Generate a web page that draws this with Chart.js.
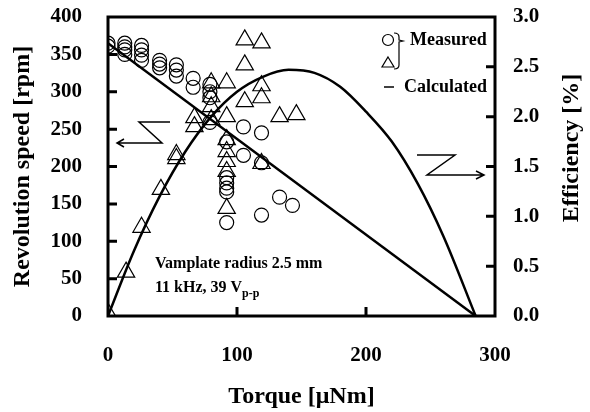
<!DOCTYPE html>
<html>
<head>
<meta charset="utf-8">
<script src="https://cdn.jsdelivr.net/npm/chart.js@4.4.1/dist/chart.umd.min.js"></script>
<style>
  html, body { margin: 0; padding: 0; background: #fff; }
  #wrap { width: 590px; height: 412px; }
</style>
</head>
<body>
<div id="wrap"><canvas id="chart" width="590" height="412"></canvas></div>
<script>
// measured revolution speed (circles)
const speedTorque = [0, 0, 13, 13, 13, 13, 26, 26, 26, 26, 40, 40, 40, 53, 53, 53, 66, 66,
    79, 79, 79, 79, 92, 92, 92, 92, 92, 92, 105, 105, 119, 119, 119, 133, 143];
const speedRpm = [365, 361, 365, 360, 356, 350, 362, 356, 349, 342, 342, 337, 332, 336, 329, 321, 318, 306,
    310, 300, 292, 259, 233, 185, 178, 171, 166, 125, 253, 215, 245, 205, 135, 159, 148];

// measured efficiency (triangles)
const effTorque = [0, 14, 26, 41, 53, 53, 67, 67, 80, 80, 80, 80, 92, 92, 92, 92, 92, 92, 92,
    106, 106, 106, 119, 119, 119, 119, 133, 146];
const effPct = [0.03, 0.44, 0.89, 1.27, 1.62, 1.58, 1.99, 1.9, 2.34, 2.2, 2.1, 1.97, 2.34, 2.0, 1.77, 1.65, 1.55, 1.45, 1.08,
    2.77, 2.52, 2.15, 2.74, 2.31, 2.19, 1.53, 2.0, 2.02];

// calculated curves
const calcSpeedTorque = [0, 285];
const calcSpeedRpm = [365, 0];
const calcEffTorque = [0, 20, 40, 60, 80, 100, 120, 140, 160, 180, 200, 220, 240, 260, 285];
const calcEffPct = [0, 0.65, 1.2, 1.65, 2.0, 2.25, 2.4, 2.47, 2.44, 2.3, 2.05, 1.75, 1.33, 0.8, 0];

// axis ticks
const xTicks = [0, 100, 200, 300];
const speedTicks = [0, 50, 100, 150, 200, 250, 300, 350, 400];
const effTicks = [0, 0.5, 1.0, 1.5, 2.0, 2.5, 3.0];

const FONT = '"Liberation Serif", "Times New Roman", serif';

function pts(xs, ys) {
    return xs.map((x, i) => ({ x: x, y: ys[i] }));
}

// box, inward ticks, legend, arrows and notes
const decor = {
    id: 'decor',
    afterDraw(chart) {
        const ctx = chart.ctx;
        const a = chart.chartArea;
        const sx = chart.scales.x, sy = chart.scales.y, se = chart.scales.y2;
        ctx.save();
        ctx.strokeStyle = '#000';
        ctx.fillStyle = '#000';
        ctx.lineWidth = 3;
        ctx.strokeRect(a.left, a.top, a.right - a.left, a.bottom - a.top);

        ctx.beginPath();
        speedTicks.slice(1, -1).forEach(v => {
            const y = sy.getPixelForValue(v);
            ctx.moveTo(a.left, y); ctx.lineTo(a.left + 9, y);
        });
        effTicks.slice(1, -1).forEach(v => {
            const y = se.getPixelForValue(v);
            ctx.moveTo(a.right, y); ctx.lineTo(a.right - 9, y);
        });
        xTicks.slice(1, -1).forEach(v => {
            const x = sx.getPixelForValue(v);
            ctx.moveTo(x, a.bottom); ctx.lineTo(x, a.bottom - 9);
        });
        ctx.stroke();

        // legend
        ctx.lineWidth = 1.2;
        ctx.beginPath(); ctx.arc(388, 40, 5.5, 0, Math.PI * 2); ctx.stroke();
        ctx.beginPath();
        ctx.moveTo(388, 57); ctx.lineTo(394, 67); ctx.lineTo(382, 67); ctx.closePath(); ctx.stroke();
        ctx.beginPath();
        ctx.moveTo(394, 33); ctx.quadraticCurveTo(399, 33, 399, 37);
        ctx.lineTo(399, 40); ctx.lineTo(403, 41); ctx.lineTo(399, 42);
        ctx.lineTo(399, 65); ctx.quadraticCurveTo(399, 69, 394, 69);
        ctx.stroke();
        ctx.lineWidth = 1.5;
        ctx.beginPath(); ctx.moveTo(384, 87); ctx.lineTo(394, 87); ctx.stroke();
        ctx.font = 'bold 18px ' + FONT;
        ctx.textBaseline = 'alphabetic';
        ctx.textAlign = 'left';
        ctx.fillText('Measured', 410, 45);
        ctx.fillText('Calculated', 404, 92);

        // arrows
        ctx.lineWidth = 1.5;
        ctx.beginPath();
        ctx.moveTo(170, 122); ctx.lineTo(139, 122); ctx.lineTo(162, 143); ctx.lineTo(118, 143);
        ctx.moveTo(124, 139); ctx.lineTo(117, 143); ctx.lineTo(124, 147);
        ctx.moveTo(417, 155); ctx.lineTo(455, 155); ctx.lineTo(427, 175); ctx.lineTo(483, 175);
        ctx.moveTo(476, 171); ctx.lineTo(484, 175); ctx.lineTo(476, 179);
        ctx.stroke();

        // notes
        ctx.font = 'bold 16px ' + FONT;
        ctx.fillText('Vamplate radius 2.5 mm', 155, 268);
        ctx.fillText('11 kHz, 39 V', 155, 292);
        const w = ctx.measureText('11 kHz, 39 V').width;
        ctx.font = 'bold 12px ' + FONT;
        ctx.fillText('p-p', 155 + w, 297);

        // right axis title
        ctx.font = 'bold 24px ' + FONT;
        ctx.translate(572, 148);
        ctx.rotate(-Math.PI / 2);
        ctx.textAlign = 'center';
        ctx.textBaseline = 'middle';
        ctx.fillText('Efficiency [%]', 0, 0);
        ctx.restore();
    }
};

const tickFont = { family: FONT, size: 21, weight: 'bold' };
const titleFont = { family: FONT, size: 24, weight: 'bold' };

function fixV(w) {
    return s => { s.width = w; s.paddingTop = 0; s.paddingBottom = 0; };
}

new Chart(document.getElementById('chart'), {
    type: 'scatter',
    data: {
        datasets: [
            {
                label: 'Calculated speed',
                data: pts(calcSpeedTorque, calcSpeedRpm),
                yAxisID: 'y',
                showLine: true,
                borderColor: '#000',
                borderWidth: 2.5,
                pointRadius: 0,
                order: 0
            },
            {
                label: 'Calculated efficiency',
                data: pts(calcEffTorque, calcEffPct),
                yAxisID: 'y2',
                showLine: true,
                borderColor: '#000',
                borderWidth: 2.5,
                pointRadius: 0,
                cubicInterpolationMode: 'monotone',
                order: 0
            },
            {
                label: 'Measured speed',
                data: pts(speedTorque, speedRpm),
                yAxisID: 'y',
                pointStyle: 'circle',
                pointRadius: 7,
                borderColor: '#000',
                borderWidth: 1.2,
                backgroundColor: 'rgba(0,0,0,0)',
                order: 1
            },
            {
                label: 'Measured efficiency',
                data: pts(effTorque, effPct),
                yAxisID: 'y2',
                pointStyle: 'triangle',
                pointRadius: 10,
                borderColor: '#000',
                borderWidth: 1.2,
                backgroundColor: 'rgba(0,0,0,0)',
                order: 1
            }
        ]
    },
    options: {
        responsive: false,
        animation: false,
        layout: { padding: { top: 17, left: 0, right: 0, bottom: 0 }, autoPadding: false },
        plugins: { legend: { display: false }, tooltip: { enabled: false } },
        scales: {
            x: {
                type: 'linear',
                min: 0, max: 300,
                afterBuildTicks: s => { s.ticks = xTicks.map(v => ({ value: v })); },
                afterFit: s => { s.height = 96; s.paddingLeft = 0; s.paddingRight = 0; },
                grid: { display: false, drawTicks: false },
                border: { display: false },
                ticks: { font: tickFont, color: '#000', padding: 27, maxRotation: 0 },
                title: { display: true, text: 'Torque [μNm]', font: titleFont, color: '#000', padding: { top: 0, bottom: 1 } }
            },
            y: {
                type: 'linear',
                position: 'left',
                min: 0, max: 400,
                afterBuildTicks: s => { s.ticks = speedTicks.map(v => ({ value: v })); },
                afterFit: fixV(108),
                grid: { display: false, drawTicks: false },
                border: { display: false },
                ticks: { font: tickFont, color: '#000', padding: 26 },
                title: { display: true, text: 'Revolution speed [rpm]', font: titleFont, color: '#000', padding: { top: 8, bottom: 0 } }
            },
            y2: {
                type: 'linear',
                position: 'right',
                min: 0, max: 3,
                afterBuildTicks: s => { s.ticks = effTicks.map(v => ({ value: v })); },
                afterFit: fixV(95),
                grid: { display: false, drawTicks: false },
                border: { display: false },
                ticks: { font: tickFont, color: '#000', padding: 18, callback: v => v.toFixed(1) }
            }
        }
    },
    plugins: [decor]
});
</script>
</body>
</html>
